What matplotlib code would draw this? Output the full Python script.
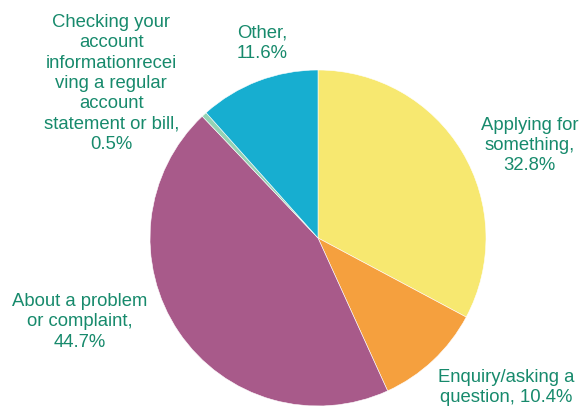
import matplotlib.pyplot as plt

plt.rcParams['font.family'] = ['Liberation Sans', 'DejaVu Sans']

labels = ['Applying for\nsomething,\n', 'Enquiry/asking a\nquestion, ', 'About a problem\nor complaint,\n',
          'Checking your\naccount\ninformationrecei\nving a regular\naccount\nstatement or bill,\n', 'Other,\n']
shares = [32.8, 10.4, 44.7, 0.5, 11.6]
colors = ['#F7E870', '#F5A03E', '#A85A8A', '#94D2B4', '#17AED0']

# label centres in data units (pie radius = 1)
label_pos = [(1.26, 0.55), (1.12, -0.89), (-1.42, -0.5), (-1.23, 0.92), (-0.33, 1.16)]
text_color = '#178A6C'

fig = plt.figure(figsize=(5.82, 4.08), dpi=100)
ax = fig.add_axes([150 / 582, 2 / 408, 336 / 582, 336 / 408])
ax.pie(shares, colors=colors, startangle=90, counterclock=False, radius=1,
       wedgeprops=dict(edgecolor='white', linewidth=0.4))
ax.set_xlim(-1, 1)
ax.set_ylim(-1, 1)
ax.set_aspect('equal')
ax.axis('off')

for lab, val, (x, y) in zip(labels, shares, label_pos):
    ax.text(x, y, f'{lab}{val}%', ha='center', va='center', multialignment='center',
            color=text_color, fontsize=13.3, linespacing=1.25, clip_on=False)

fig.savefig('out.png', dpi=100)
